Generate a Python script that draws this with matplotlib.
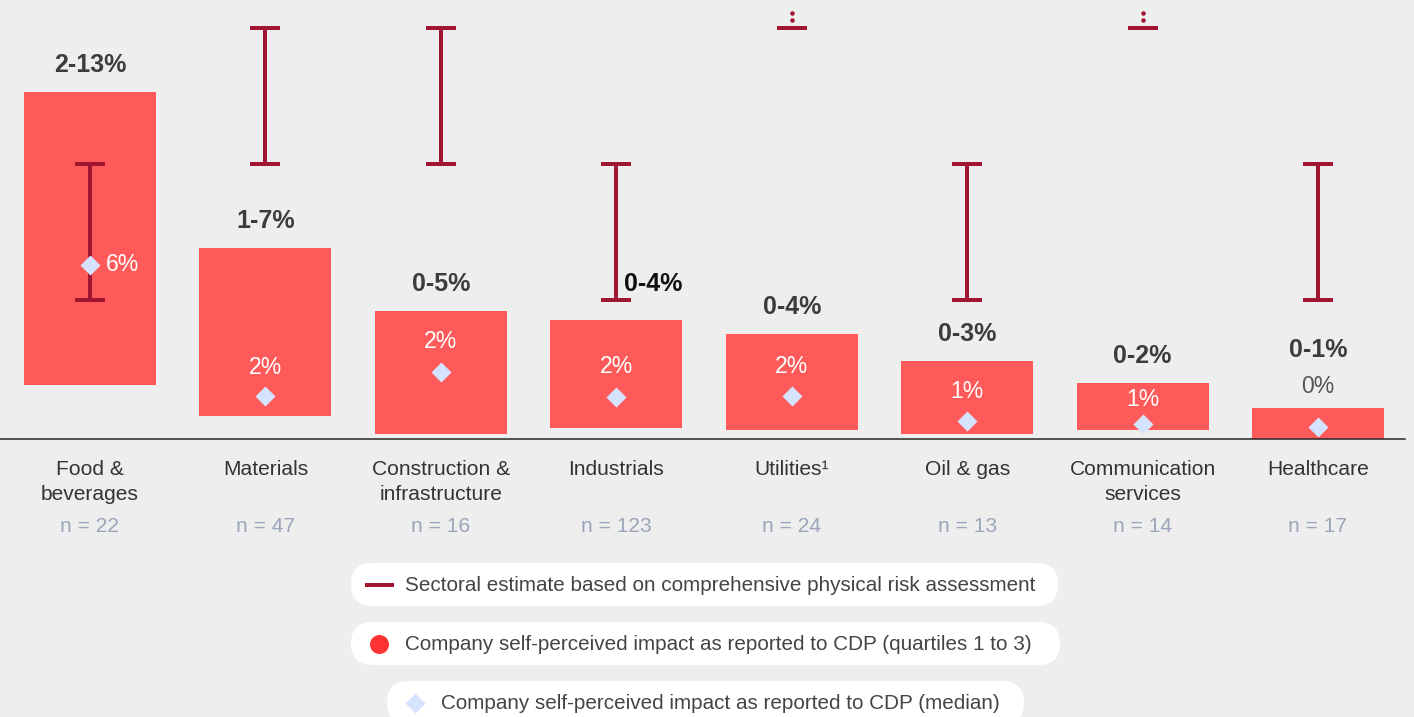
import numpy as np
import matplotlib
matplotlib.use("Agg")
import matplotlib.pyplot as plt
from matplotlib.patches import FancyBboxPatch
from matplotlib.lines import Line2D
import matplotlib.transforms as mtransforms

# ---------------- data ----------------
categories = ["Food &\nbeverages", "Materials", "Construction &\ninfrastructure",
              "Industrials", "Utilities\u00b9", "Oil & gas",
              "Communication\nservices", "Healthcare"]
n_counts = [22, 47, 16, 123, 24, 13, 14, 17]
q1 = [2.02, 0.87, 0.20, 0.42, 0.35, 0.20, 0.34, 0.00]
q3 = [13.0, 7.15, 4.79, 4.45, 3.93, 2.92, 2.10, 1.16]
median = [6.51, 1.62, 2.50, 1.56, 1.62, 0.68, 0.56, 0.45]
range_labels = ["2-13%", "1-7%", "0-5%", "0-4%", "0-4%", "0-3%", "0-2%", "0-1%"]
median_labels = ["6%", "2%", "2%", "2%", "2%", "1%", "1%", "0%"]
# sectoral estimate (nan high = extends beyond chart)
est_low = [5.21, 10.30, 10.30, 5.21, 15.38, 5.21, 15.38, 5.21]
est_high = [10.30, 15.38, 15.38, 10.30, np.nan, 10.30, np.nan, 10.30]
legend_labels = ["Sectoral estimate based on comprehensive physical risk assessment",
                 "Company self-perceived impact as reported to CDP (quartiles 1 to 3)",
                 "Company self-perceived impact as reported to CDP (median)"]

# ---------------- style ----------------
BG = "#EEEEEE"
BAR = "#FF5A5A"
EST = "#A01530"
DIA = "#D5E3FF"
FONT = "Liberation Sans"
plt.rcParams["font.family"] = [FONT, "DejaVu Sans"]

W, H, DPI = 1414, 717, 72
fig = plt.figure(figsize=(W / DPI, H / DPI), dpi=DPI, facecolor=BG)
ax = fig.add_axes([0, (H - 439) / H, 1405 / W, 439 / H])
ax.set_facecolor(BG)
ax.patch.set_alpha(0)

x = np.arange(len(categories))
q1a, q3a, meda = np.array(q1), np.array(q3), np.array(median)
lo, hi = np.array(est_low), np.array(est_high)

ax.bar(x, q3a - q1a, bottom=q1a, width=0.752, color=BAR, zorder=2)

# sectoral estimates
full = ~np.isnan(hi)
ax.errorbar(x[full], (lo[full] + hi[full]) / 2, yerr=(hi[full] - lo[full]) / 2,
            fmt="none", ecolor=EST, elinewidth=4, capsize=15, capthick=4, zorder=3)
trunc = np.isnan(hi)
ax.errorbar(x[trunc], lo[trunc], yerr=0, fmt="none", ecolor=EST,
            elinewidth=0, capsize=15, capthick=4, zorder=3)
for dy in (7.5, 15):
    off = mtransforms.offset_copy(ax.transData, fig=fig, x=0, y=dy, units="points")
    ax.plot(x[trunc], lo[trunc], "o", ms=4.5, color=EST, mec="none",
            transform=off, clip_on=False, zorder=3)

# medians
ax.plot(x, meda, "D", ms=13.5, color=DIA, mec="none", zorder=4, clip_on=False)

# median labels
med_dy = [0, 22, 24.5, 24.5, 23, 22.5, 18, 34]
for i, (m, t) in enumerate(zip(meda, median_labels)):
    if i == 0:
        ax.annotate(t, xy=(i, m), xytext=(16, 0), textcoords="offset points",
                    ha="left", va="center", fontsize=23, color="white", zorder=5)
    else:
        col = "white" if m + med_dy[i] / 26.7 < q3a[i] else "#555555"
        ax.annotate(t, xy=(i, m), xytext=(0, med_dy[i]), textcoords="offset points",
                    ha="center", va="baseline", fontsize=23, color=col, zorder=5)

# range labels
for i, (top, t) in enumerate(zip(q3a, range_labels)):
    if i == 3:
        ax.annotate(t, xy=(i, top), xytext=(8, 29), textcoords="offset points",
                    ha="left", va="baseline", fontsize=25, fontweight="bold",
                    color="#111111", zorder=5)
    else:
        dy = 51 if i == 7 else 20
        ax.annotate(t, xy=(i, top), xytext=(0, dy), textcoords="offset points",
                    ha="center", va="baseline", fontsize=25, fontweight="bold",
                    color="#3C3C3C", zorder=5)

# category + n labels
for i, (c, n) in enumerate(zip(categories, n_counts)):
    ax.annotate(c, xy=(i, 0), xycoords="data", xytext=(0, -21), textcoords="offset points",
                ha="center", va="top", fontsize=21, color="#333333", linespacing=1.38)
    ax.annotate(f"n = {n}", xy=(i, 0), xytext=(0, -92.5), textcoords="offset points",
                ha="center", va="baseline", fontsize=21, color="#9BA5BA")

ax.set_xlim(-0.513, 7.496)
ax.set_ylim(0, 439 / 26.73)
for s in ("top", "right", "left"):
    ax.spines[s].set_visible(False)
ax.spines["bottom"].set_color("#222222")
ax.spines["bottom"].set_linewidth(1.5)
ax.set_xticks([])
ax.set_yticks([])

# ---------------- legend (pixel overlay) ----------------
lg = fig.add_axes([0, 0, 1, 1])
lg.set_xlim(0, W)
lg.set_ylim(H, 0)
lg.axis("off")
lg.patch.set_alpha(0)
boxes = [(351, 563, 707, 43), (351, 622, 709, 43), (387, 681, 637, 43)]
text_x = [405, 405, 441]
for (bx, by, bw, bh), tx, lab in zip(boxes, text_x, legend_labels):
    lg.add_patch(FancyBboxPatch((bx, by), bw, bh,
                                boxstyle="round,pad=0,rounding_size=21.5",
                                fc="white", ec="none", clip_on=False))
    lg.text(tx, by + bh / 2 + 1, lab, ha="left", va="center", fontsize=20.6,
            color="#444444")
lg.add_line(Line2D([367, 392], [584.5, 584.5], color=EST, lw=4))
lg.plot([379], [643.5], "o", ms=19, color="#FF3333", mec="none")
lg.plot([415], [702.5], "D", ms=13.5, color=DIA, mec="none")

fig.savefig("out.png", dpi=DPI, facecolor=BG)
